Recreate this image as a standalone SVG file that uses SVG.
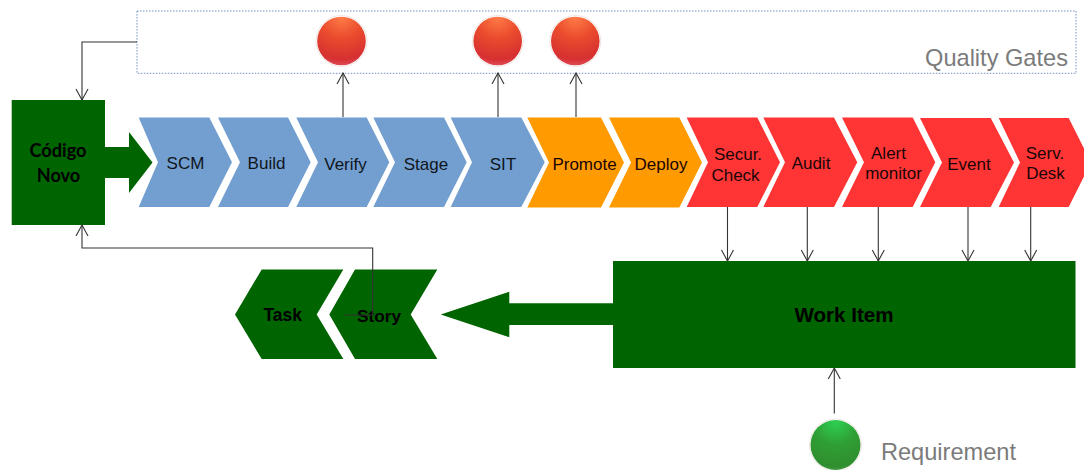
<svg xmlns="http://www.w3.org/2000/svg" width="1084" height="470" viewBox="0 0 1084 470">
<style>
text{font-family:"Liberation Sans",Arial,sans-serif;text-anchor:middle}
.l{font-size:17px;fill:#10151c}
.r{fill:#1a0508}
.k{font-weight:bold;fill:#000}
.g{font-size:23.600px;fill:#7b7b7b}
.blue{fill:#729fd0}
.orange{fill:#ff9b00}
.red{fill:#ff3535}
.dark{fill:#006400}
.c{fill:none;stroke:#333;stroke-width:1.1}
.halo{fill:#fff;stroke:#f0e6e3;stroke-width:1}
</style>
<defs>
<radialGradient id="rg" cx="50%" cy="0%" r="100%"><stop offset="0" stop-color="#ff7d48"/><stop offset=".45" stop-color="#ea4b2d"/><stop offset=".88" stop-color="#d63031"/><stop offset="1" stop-color="#de4a55"/></radialGradient>
<radialGradient id="gg" cx="50%" cy="5%" r="100%"><stop offset="0" stop-color="#2ecf52"/><stop offset=".45" stop-color="#2f9e34"/><stop offset=".88" stop-color="#2f8e2f"/><stop offset="1" stop-color="#52a54c"/></radialGradient>
<marker id="a" markerUnits="userSpaceOnUse" markerWidth="14" markerHeight="14" viewBox="0 0 14 14" refX="13" refY="7" orient="auto"><path d="M2 1L13 7L2 13" fill="none" stroke="#333" stroke-width="1.1"/></marker>
</defs>
<g id="quality-gates"><rect x="137" y="11" width="939" height="62.300" fill="#fff" stroke="#6f8fbd" stroke-width="1" stroke-dasharray="1.500 1.500"/><text class="g" x="996.500" y="66">Quality Gates</text></g>
<g id="connectors">
<path class="c" d="M137 42H82V100" marker-end="url(#a)"/>
<path class="c" d="M343 117V73" marker-end="url(#a)"/>
<path class="c" d="M498 117V73" marker-end="url(#a)"/>
<path class="c" d="M576 117V73" marker-end="url(#a)"/>
<path class="c" d="M727.500 207V261" marker-end="url(#a)"/>
<path class="c" d="M807.300 207V261" marker-end="url(#a)"/>
<path class="c" d="M878.300 207V261" marker-end="url(#a)"/>
<path class="c" d="M968 207V261" marker-end="url(#a)"/>
<path class="c" d="M1030.700 207V261" marker-end="url(#a)"/>
<path class="c" d="M834.300 413.500V368" marker-end="url(#a)"/>
</g>
<g id="codigo-novo"><polygon class="dark" points="11.700,100 105,100 105,147 129,147 129,132 152.500,162.500 129,193 129,178 105,178 105,225 11.700,225"/><text class="k" style="font-family:Lato,'Liberation Sans',sans-serif" font-size="18.200" x="58" y="157">Código</text><text class="k" style="font-family:Lato,'Liberation Sans',sans-serif" font-size="18.200" x="58.500" y="182">Novo</text></g>
<g id="scm"><polygon class="blue" points="138.700,117.500 209.300,117.500 232,162.300 209.300,207 138.700,207 158,162.300"/><text class="l" x="185.500" y="168.500">SCM</text></g>
<g id="build"><polygon class="blue" points="218,117.500 288,117.500 310.700,162.300 288,207 218,207 240,162.300"/><text class="l" x="266.500" y="168.500">Build</text></g>
<g id="verify"><polygon class="blue" points="296.300,117.500 366.700,117.500 389.300,162.300 366.700,207 296.300,207 318,162.300"/><text class="l" x="345.500" y="169.500">Verify</text></g>
<g id="stage"><polygon class="blue" points="373.300,117.500 444,117.500 466.700,162.300 444,207 373.300,207 395,162.300"/><text class="l" x="426" y="169.500">Stage</text></g>
<g id="sit"><polygon class="blue" points="450.700,117.500 521.300,117.500 544.700,162.300 521.300,207 450.700,207 472,162.300"/><text class="l" x="503" y="169.500">SIT</text></g>
<g id="promote"><polygon class="orange" points="527.300,117.500 601,117.500 624,162.500 601,207.500 527.300,207.500 549,162.500"/><text class="l r" x="584.500" y="169.500">Promote</text></g>
<g id="deploy"><polygon class="orange" points="609,117.500 679.300,117.500 702,162.500 679.300,207.500 609,207.500 631,162.500"/><text class="l r" x="661" y="169.500">Deploy</text></g>
<g id="secur-check"><polygon class="red" points="686.700,117.500 757.300,117.500 780,162.300 757.300,207 686.700,207 708,162.300"/><text class="l r" x="738" y="160">Secur.</text><text class="l r" x="735.500" y="181">Check</text></g>
<g id="audit"><polygon class="red" points="763.300,117.500 834,117.500 857.300,162.300 834,207 763.300,207 785,162.300"/><text class="l r" x="811" y="169">Audit</text></g>
<g id="alert-monitor"><polygon class="red" points="842,117.500 912.700,117.500 935.300,162.300 912.700,207 842,207 864,162.300"/><text class="l r" x="888.500" y="159">Alert</text><text class="l r" x="893.500" y="179">monitor</text></g>
<g id="event"><polygon class="red" points="920,118 990.700,118 1014,162.500 990.700,207 920,207 942,162.500"/><text class="l r" x="969" y="170">Event</text></g>
<g id="serv-desk"><polygon class="red" points="998.700,118 1068.700,118 1091,162.500 1068.700,207 998.700,207 1020,162.500"/><text class="l r" x="1045" y="159">Serv.</text><text class="l r" x="1045.500" y="179">Desk</text></g>
<g id="work-item"><polygon class="dark" points="613,261 1075.500,261 1075.500,368 613,368 613,325 509.300,325 509.300,337.300 440.700,314.500 509.300,291.700 509.300,303.300 613,303.300"/><text class="k" font-size="20.600" x="844" y="321.500">Work Item</text></g>
<g id="story"><polygon class="dark" points="355,269.500 437.300,269.500 410.700,314.500 437.300,359 355,359 329.300,314.500"/><text class="k" font-size="17.300" x="379" y="321.500">Story</text></g>
<g id="task"><polygon class="dark" points="261.700,269.500 343.300,269.500 316.700,314.500 343.300,359 261.700,359 235,314.500"/><text class="k" font-size="17.500" x="282.700" y="321">Task</text></g>
<g id="connector-feedback"><path class="c" d="M344.500 315H372.700V248H82V225" marker-end="url(#a)"/></g>
<g id="gate-1"><circle class="halo" cx="341.500" cy="41" r="25.500"/><circle cx="341.500" cy="41" r="24.300" fill="url(#rg)"/></g>
<g id="gate-2"><circle class="halo" cx="497.700" cy="41" r="25.500"/><circle cx="497.700" cy="41" r="24.300" fill="url(#rg)"/></g>
<g id="gate-3"><circle class="halo" cx="575.300" cy="41" r="25.500"/><circle cx="575.300" cy="41" r="24.300" fill="url(#rg)"/></g>
<g id="requirement"><circle class="halo" cx="835.500" cy="445" r="26"/><circle cx="835.500" cy="445" r="25" fill="url(#gg)"/><text class="g" x="948.500" y="460">Requirement</text></g>
</svg>
